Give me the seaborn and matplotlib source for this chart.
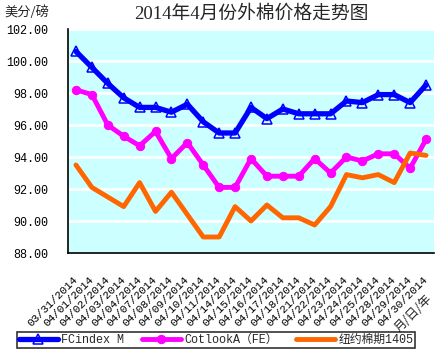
import matplotlib
matplotlib.use('Agg')
import matplotlib.pyplot as plt
import seaborn as sns
import numpy as np
import pandas as pd

sns.set_theme(style="white")
plt.rcParams['font.family'] = ['Liberation Mono', 'Noto Sans CJK SC']

# trading days in April 2014
dates = ['03/31/2014', '04/01/2014', '04/02/2014', '04/03/2014', '04/04/2014',
         '04/07/2014', '04/08/2014', '04/09/2014', '04/10/2014', '04/11/2014',
         '04/14/2014', '04/15/2014', '04/16/2014', '04/17/2014', '04/18/2014',
         '04/21/2014', '04/22/2014', '04/23/2014', '04/24/2014', '04/25/2014',
         '04/28/2014', '04/29/2014', '04/30/2014']

fc_index = [100.6, 99.6, 98.6, 97.7, 97.1, 97.1, 96.8, 97.3, 96.2, 95.5,
            95.5, 97.1, 96.4, 97.0, 96.7, 96.7, 96.7, 97.5, 97.4, 97.9,
            97.9, 97.4, 98.5]
cotlook = [98.2, 97.9, 96.0, 95.3, 94.7, 95.6, 93.9, 94.9, 93.5, 92.1,
           92.1, 93.9, 92.8, 92.8, 92.8, 93.9, 93.0, 94.0, 93.75, 94.2,
           94.2, 93.3, 95.1]
ny_futures = [93.5, 92.1, 91.5, 90.9, 92.4, 90.6, 91.8, 90.4, 89.0, 89.0,
              90.9, 90.0, 91.0, 90.2, 90.2, 89.75, 90.9, 92.9, 92.7, 92.9,
              92.4, 94.25, 94.1]

series_names = ['FCindex M', 'CotlookA\uff08FE\uff09', '纽约棉期1405']
x = np.arange(len(dates))

fig = plt.figure(figsize=(4.4, 3.53), dpi=100)
ax = fig.add_axes([68 / 440, 1 - 253 / 353, 366 / 440, 224 / 353])
ax.set_facecolor('#CCFFFF')

sns.lineplot(x=x, y=fc_index, ax=ax, color='#0000FF', lw=3.8, marker='^',
             markersize=6.5, markerfacecolor='none', markeredgecolor='#0000FF',
             markeredgewidth=1.1, label=series_names[0])
sns.lineplot(x=x, y=cotlook, ax=ax, color='#FF00FF', lw=3.5, marker='o',
             markersize=6, markeredgecolor='#FF00FF', label=series_names[1])
sns.lineplot(x=x, y=ny_futures, ax=ax, color='#FF6600', lw=3.5,
             label=series_names[2])

ax.set_xlim(-0.5, len(dates) - 0.5)
ax.set_ylim(88, 102)
ax.set_yticks(np.arange(88, 102.1, 2))
ax.set_yticklabels([f'{v:.2f}' for v in np.arange(88, 102.1, 2)], fontsize=8.5)
ax.yaxis.grid(True, color='white', lw=2)
ax.set_axisbelow(True)

ax.set_xticks(x)
ax.set_xticklabels(dates, rotation=45, ha='right', va='center',
                   rotation_mode='anchor', fontsize=8)
ax.set_xticks(np.arange(-0.5, len(dates), 1), minor=True)
ax.tick_params(axis='x', which='major', length=0, pad=18)
ax.tick_params(axis='x', which='minor', direction='in', length=4, color='black', width=1)
ax.tick_params(axis='y', which='major', direction='in', length=3, color='black', pad=14)
ax.tick_params(axis='both', colors='black')
for lab in ax.get_yticklabels():
    lab.set_color('black')

for s in ['top', 'right']:
    ax.spines[s].set_visible(False)
for s in ['left', 'bottom']:
    ax.spines[s].set_color('black')
    ax.spines[s].set_linewidth(1.2)

ax.set_xlabel('')
ax.set_ylabel('')
ax.get_legend().remove()

fig.text(251 / 440, 1 - 14 / 353, '2014年4月份外棉价格走势图', ha='center', va='center',
         fontsize=13.5, family=['Liberation Serif', 'Noto Sans CJK SC'])
fig.text(4 / 440, 1 - 12 / 353, '美分/磅', ha='left', va='center', fontsize=9.5,
         family=['Noto Sans CJK SC'])
fig.text(413 / 440, 1 - 313 / 353, '月/日/年', ha='center', va='center', rotation=45,
         fontsize=9, family=['Noto Sans CJK SC'])

handles, labels = ax.get_legend_handles_labels()
leg = fig.legend(handles, labels, loc='lower left', bbox_to_anchor=(17 / 440, 1 - 348 / 353),
                 ncol=3, frameon=True, fancybox=False, edgecolor='black', fontsize=8.5,
                 handlelength=3.3, handletextpad=0.3, columnspacing=1.5,
                 borderpad=0.15, borderaxespad=0)
leg.get_frame().set_linewidth(1.2)

fig.savefig('out.png', dpi=100)
